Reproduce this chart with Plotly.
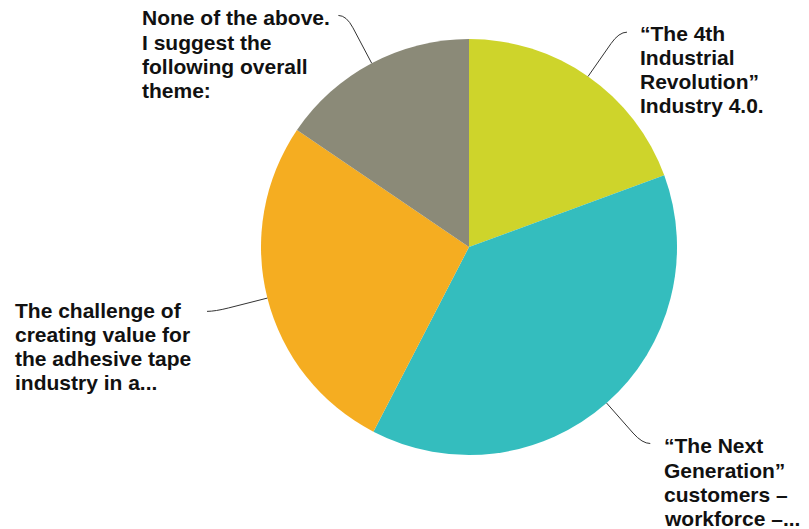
import math
import plotly.graph_objects as go

# ---- data ----
labels = [
    "“The 4th Industrial Revolution” Industry 4.0.",
    "“The Next Generation” customers – workforce –...",
    "The challenge of creating value for the adhesive tape industry in a...",
    "None of the above. I suggest the following overall theme:",
]
label_lines = [
    ["“The 4th", "Industrial", "Revolution”", "Industry 4.0."],
    ["“The Next", "Generation”", "customers –", "workforce –..."],
    ["The challenge of", "creating value for", "the adhesive tape", "industry in a..."],
    ["None of the above.", "I suggest the", "following overall", "theme:"],
]
values = [19.4, 38.2, 26.9, 15.5]
colors = ["#CED42B", "#34BDBE", "#F5AD21", "#8B8A78"]

# ---- layout (pixels) ----
W, H = 809, 529
CX, CY, R = 469, 247, 208
label_pos = [(638, 33), (662, 446), (13, 310), (140, 18)]  # left x, first-line centre y
PITCH = 24.3
FONT = dict(family="Arial, Liberation Sans, sans-serif", size=21, color="#111111")

def px(x):
    return x / W

def py(y):
    return 1 - y / H

fig = go.Figure(go.Pie(
    labels=labels,
    values=values,
    marker=dict(colors=colors, line=dict(width=0)),
    sort=False,
    direction="clockwise",
    rotation=0,
    textinfo="none",
    hoverinfo="label+percent",
    showlegend=False,
    domain=dict(x=[px(CX - R), px(CX + R)], y=[py(CY + R), py(CY - R)]),
))

# leader lines computed from slice mid-angles
total = sum(values)
shapes = []
cum = 0
for v in values:
    mid = (cum + v / 2) / total * 2 * math.pi
    cum += v
    dx, dy = math.sin(mid), -math.cos(mid)
    p0 = (CX + R * dx, CY + R * dy)
    p1 = (CX + (R + 40) * dx, CY + (R + 40) * dy)
    p2 = (CX + (R + 54) * dx, CY + (R + 54) * dy)
    side = 1 if dx >= 0 else -1
    p3 = (p2[0] + side * 8, p2[1])
    path = "M {:.4f},{:.4f} L {:.4f},{:.4f} Q {:.4f},{:.4f} {:.4f},{:.4f}".format(
        px(p0[0]), py(p0[1]), px(p1[0]), py(p1[1]),
        px(p2[0]), py(p2[1]), px(p3[0]), py(p3[1]))
    shapes.append(dict(type="path", xref="paper", yref="paper", path=path,
                       line=dict(color="#333333", width=1)))

annotations = []
for lines, (lx, ly) in zip(label_lines, label_pos):
    for i, t in enumerate(lines):
        annotations.append(dict(
            x=px(lx), y=py(ly + i * PITCH), xref="paper", yref="paper",
            xanchor="left", yanchor="middle", text="<b>" + t + "</b>",
            showarrow=False, font=FONT, align="left",
        ))

fig.update_layout(
    width=W, height=H,
    margin=dict(l=0, r=0, t=0, b=0),
    paper_bgcolor="white", plot_bgcolor="white",
    shapes=shapes, annotations=annotations,
)

fig.write_html("out.html")
